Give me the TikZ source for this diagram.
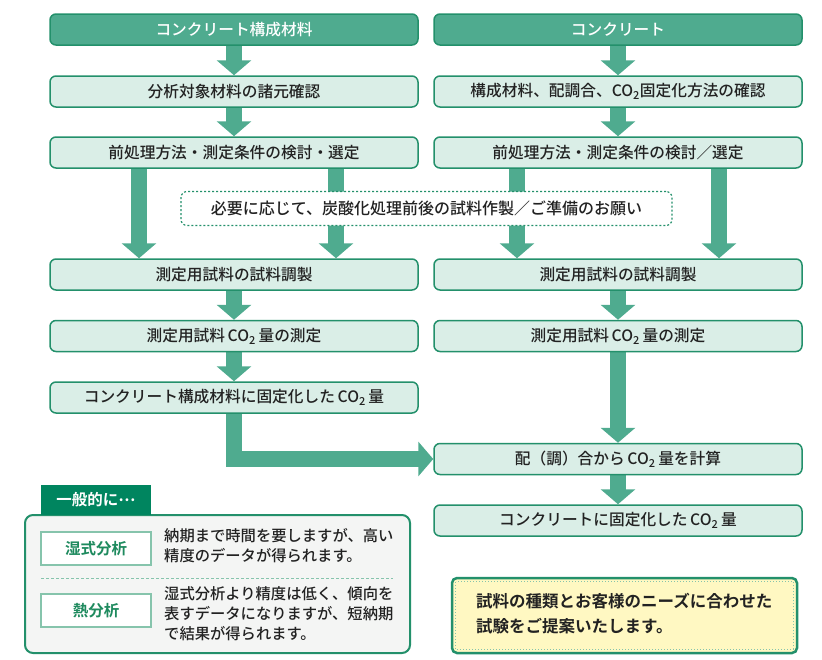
\documentclass[tikz,border=0pt]{standalone}
\usepackage{fontspec}
\setmainfont{Noto Sans CJK JP}[UprightFont=* Medium, BoldFont=* Bold]
\usetikzlibrary{arrows.meta,backgrounds}
\definecolor{hdrgreen}{HTML}{4FAB8F}
\definecolor{edgegreen}{HTML}{23906B}
\definecolor{boxmint}{HTML}{DAEEE7}
\definecolor{tabgreen}{HTML}{00855F}
\definecolor{labelgreen}{HTML}{1E8A5E}
\definecolor{labeledge}{HTML}{86C4AC}
\definecolor{notegray}{HTML}{F4F5F4}
\definecolor{noteyellow}{HTML}{FFF8C2}
\definecolor{inktext}{HTML}{222222}

\begin{document}
\begin{tikzpicture}[x=1pt,y=-1pt,
  every node/.style={font=\fontsize{15.7}{20}\selectfont, text=inktext, inner sep=0pt},
  header/.style={draw=edgegreen, line width=1.5pt, fill=hdrgreen, rounded corners=6pt, minimum width=368pt, minimum height=31pt, text=white},
  stepbox/.style={draw=edgegreen, line width=1.5pt, fill=boxmint, rounded corners=6pt, minimum width=368pt, minimum height=31pt},
  blockarrow/.style={draw=hdrgreen, line width=16pt, -{Triangle[width=34pt,length=15pt]}},
  labelbox/.style={draw=labeledge, line width=1.2pt, fill=white, minimum width=110pt, minimum height=33pt, text=labelgreen, font=\fontsize{15.5}{20}\selectfont\bfseries}]
\useasboundingbox (0,0) rectangle (822,659);

% left column
\node[header]  (hdrL)  at (234,29.5)  {コンクリート構成材料};
\node[stepbox] (infoL) at (234,91.5)  {分析対象材料の諸元確認};
\node[stepbox] (prepL) at (234,152.5) {前処理方法・測定条件の検討・選定};
\node[stepbox] (makeL) at (234,274.5) {測定用試料の試料調製};
\node[stepbox] (co2L)  at (234,336)   {測定用試料\,CO\textsubscript{2}\,量の測定};
\node[stepbox] (fixL)  at (234,397.5) {コンクリート構成材料に固定化した\,CO\textsubscript{2}\,量};

% right column
\node[header]  (hdrR)  at (618,29.5)  {コンクリート};
\node[stepbox] (infoR) at (618,91.5)  {構成材料、配調合、CO\textsubscript{2}固定化方法の確認};
\node[stepbox] (prepR) at (618,152.5) {前処理方法・測定条件の検討／選定};
\node[stepbox] (makeR) at (618,274.5) {測定用試料の試料調製};
\node[stepbox] (co2R)  at (618,336)   {測定用試料\,CO\textsubscript{2}\,量の測定};
\node[stepbox] (calc)  at (618,459)   {配（調）合から\,CO\textsubscript{2}\,量を計算};
\node[stepbox] (fixR)  at (618,520.5) {コンクリートに固定化した\,CO\textsubscript{2}\,量};

% arrows
\begin{scope}[on background layer]
\draw[blockarrow] (hdrL.south) -- (infoL.north);
\draw[blockarrow] (infoL.south) -- (prepL.north);
\draw[blockarrow] ([xshift=-95pt]prepL.south) -- ([xshift=-95pt]makeL.north);
\draw[blockarrow] ([xshift=102pt]prepL.south) -- ([xshift=102pt]makeL.north);
\draw[blockarrow] (makeL.south) -- (co2L.north);
\draw[blockarrow] (co2L.south) -- (fixL.north);
\draw[blockarrow] (fixL.south) |- (calc.west);
\draw[blockarrow] (hdrR.south) -- (infoR.north);
\draw[blockarrow] (infoR.south) -- (prepR.north);
\draw[blockarrow] ([xshift=-101pt]prepR.south) -- ([xshift=-101pt]makeR.north);
\draw[blockarrow] ([xshift=101pt]prepR.south) -- ([xshift=101pt]makeR.north);
\draw[blockarrow] (makeR.south) -- (co2R.north);
\draw[blockarrow] (co2R.south) -- (calc.north);
\draw[blockarrow] (calc.south) -- (fixR.north);
\end{scope}

\node[draw=edgegreen, line width=1.2pt, dash pattern=on 2pt off 2pt, fill=white, rounded corners=6pt,
  minimum width=491pt, minimum height=34pt, font=\fontsize{16}{20}\selectfont] (request) at (426.5,208.5)
  {必要に応じて、炭酸化処理前後の試料作製／ご準備のお願い};

% legend
\node[draw=edgegreen, line width=2pt, fill=notegray, rounded corners=8pt,
  minimum width=385pt, minimum height=138pt] (legend) at (217.5,584) {};
\node[fill=tabgreen, minimum width=110pt, minimum height=30pt, text=white,
  font=\fontsize{15.5}{20}\selectfont\bfseries] (tab) at (96,500) {一般的に\raisebox{0.3em}{…}};
\node[labelbox] (wet)  at (96,548.5) {湿式分析};
\node[labelbox] (heat) at (96,610.5) {熱分析};
\node[anchor=north west, align=left, font=\fontsize{15.3}{20}\selectfont] (wetnote) at (164,528)
  {納期まで時間を要しますが、高い\\精度のデータが得られます。};
\node[anchor=north west, align=left, font=\fontsize{15.3}{20}\selectfont] (heatnote) at (164,586)
  {湿式分析より精度は低く、傾向を\\表すデータになりますが、短納期\\で結果が得られます。};
\draw[labeledge, line width=1pt, dash pattern=on 3pt off 2pt] (41,578) -- (393,578);

% proposal
\node[draw=edgegreen, line width=2.5pt, fill=noteyellow, rounded corners=5pt,
  minimum width=345pt, minimum height=75pt] (offer) at (624.5,615.5) {};
\draw[labeledge, line width=1pt, dotted] ([shift={(5pt,-5pt)}]offer.north west) rectangle ([shift={(-5pt,5pt)}]offer.south east);
\node[anchor=north west, align=left, font=\fontsize{16.5}{25}\selectfont\bfseries] (offertext) at (476,593)
  {試料の種類とお客様のニーズに合わせた\\試験をご提案いたします。};
\end{tikzpicture}
\end{document}
